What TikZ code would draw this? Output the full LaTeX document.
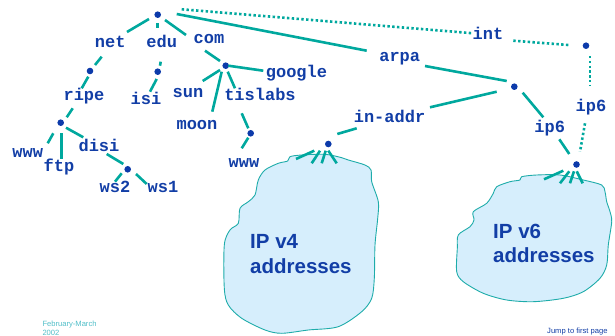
\documentclass[tikz,border=0pt]{standalone}
\usepackage{fontspec}
\usetikzlibrary{calc}
\newfontfamily\lblfont{Liberation Mono}
\newfontfamily\sansf{Liberation Sans}
\definecolor{tealc}{RGB}{0,168,158}
\definecolor{tblue}{RGB}{18,62,166}
\definecolor{dotblue}{RGB}{12,58,170}
\definecolor{blobfill}{RGB}{214,238,252}
\definecolor{blobline}{RGB}{30,172,170}
\definecolor{foot}{RGB}{80,190,200}
\tikzset{
  lbl/.style={font={\lblfont\bfseries\fontsize{17pt}{17pt}\selectfont}, text=tblue, inner sep=0pt, text height=9pt, text depth=0pt},
  dotn/.style={circle, fill=dotblue, inner sep=0pt, minimum size=6.6pt},
  edge/.style={draw=tealc, line width=2.6pt},
  dots/.style={draw=tealc, line width=2.6pt, dash pattern=on 2.4pt off 2.4pt},
  blob/.style={draw=blobline, fill=blobfill, line width=0.9pt},
  bloblbl/.style={font={\sansf\bfseries\fontsize{20.5pt}{20.5pt}\selectfont}, text=tblue, inner sep=0pt, anchor=base west},
  footl/.style={font={\sansf\fontsize{7.6pt}{7.6pt}\selectfont}, inner sep=0pt, anchor=base west}
}
\begin{document}
\begin{tikzpicture}[x=1pt,y=-1pt]
\useasboundingbox (0,0) rectangle (615,336);
% blobs
\draw[blob] plot[smooth cycle, tension=0.5] coordinates {(287.7,161) (290,156.7) (301.7,155) (325,154.3) (341.7,157.7) (348.3,160) (365,165) (371,170) (371.7,181.7) (378.3,201.7) (377.7,218.3) (375,245) (374.3,278.3) (371.7,298.3) (361.7,311.7) (338.3,326.7) (308.3,330) (281.7,333.3) (265,330) (241.7,318.3) (228.3,305) (224.3,288.3) (224.3,245) (230,230) (238.3,223.3) (240,208.3) (248.3,201.7) (255,195) (258.3,180) (265,170) (278.3,163.3)};
\draw[blob] plot[smooth cycle, tension=0.5] coordinates {(520,180) (521.7,176.7) (536.7,175) (560,175) (583.3,180) (601.7,185) (605,191.7) (606.7,201.7) (610,211.7) (611.7,221.7) (608.3,245) (606.7,265) (600,278.3) (583.3,291.7) (563.3,298.3) (533.3,301.7) (506.7,300) (483.3,293.3) (463.3,281.7) (456.7,271.7) (457.3,248.3) (458.3,235) (470,226.7) (474,220) (473.3,211.7) (486.7,203.3) (493.3,193.3) (496.7,186.7) (510,181.7)};
\node[bloblbl] (v4a) at (250,249) {IP v4};
\node[bloblbl] (v4b) at (250,273.3) {addresses};
\node[bloblbl] (v6a) at (493,238.3) {IP v6};
\node[bloblbl] (v6b) at (493,262.8) {addresses};
% dots
\node[dotn] (root) at (157.7,14.7) {};
\node[dotn] (netdot) at (90,71) {};
\node[dotn] (ripedot) at (60.7,122.7) {};
\node[dotn] (disidot) at (127.7,169.3) {};
\node[dotn] (edudot) at (157.7,71.7) {};
\node[dotn] (comdot) at (225.7,65.7) {};
\node[dotn] (tisdot) at (250.7,133.3) {};
\node[dotn] (arpadot) at (514.3,86.7) {};
\node[dotn] (intdot) at (586,45.7) {};
\node[dotn] (ip6dot) at (576.5,164.5) {};
\node[dotn] (inaddrdot) at (328.3,144) {};
% labels
\node[lbl] (net) at (110.3,43.5) {net};
\node[lbl] (edu) at (161.7,43) {edu};
\node[lbl] (com) at (209,39) {com};
\node[lbl] (ripe) at (84,96) {ripe};
\node[lbl] (www1) at (27.7,153) {www};
\node[lbl] (ftp) at (59,167) {ftp};
\node[lbl] (disi) at (99,147) {disi};
\node[lbl] (ws2) at (115,188.3) {ws2};
\node[lbl] (ws1) at (163,188.3) {ws1};
\node[lbl] (isi) at (146,100) {isi};
\node[lbl] (google) at (296.5,73) {google};
\node[lbl] (sun) at (188,93.5) {sun};
\node[lbl] (moon) at (197,125) {moon};
\node[lbl] (tislabs) at (260,96) {tislabs};
\node[lbl] (www2) at (244,163) {www};
\node[lbl] (arpa) at (399.7,57) {arpa};
\node[lbl] (int) at (488,35) {int};
\node[lbl] (ip6a) at (591,107.5) {ip6};
\node[lbl] (inaddr) at (389.5,118) {in-addr};
\node[lbl] (ip6b) at (549.7,128) {ip6};
% solid edges
\draw[edge] ($(root)+(-8.7,4.3)$) -- ($(net)+(16.7,-11.5)$);
\draw[edge] ($(root)+(0,8.5)$) -- ($(edu)+(-4,-14.7)$);
\draw[edge] ($(root)+(7.3,5.3)$) -- ($(com)+(-23,-4)$);
\draw[edge] ($(net)+(-8.6,13.2)$) -- ($(netdot)+(5,-6)$);
\draw[edge] ($(netdot)+(-1.7,5.7)$) -- ($(ripe)+(-2.3,-7.7)$);
\draw[edge] ($(ripe)+(-11.3,12.3)$) -- ($(ripedot)+(6,-5.4)$);
\draw[edge] ($(ripedot)+(-7.4,10.6)$) -- ($(www1)+(20,-9.7)$);
\draw[edge] ($(ripedot)+(1,10.6)$) -- ($(ftp)+(2.7,-7.7)$);
\draw[edge] ($(ripedot)+(5.3,5)$) -- ($(disi)+(-15.7,-9.7)$);
\draw[edge] ($(disi)+(7.7,7)$) -- ($(disidot)+(-4.4,-5.3)$);
\draw[edge] ($(disidot)+(-6,4)$) -- ($(ws2)+(0,-6.6)$);
\draw[edge] ($(disidot)+(8.3,4.7)$) -- ($(ws1)+(-16.3,-4.3)$);
\draw[edge] ($(edu)+(-1,18.7)$) -- ($(edudot)+(2.3,-6)$);
\draw[edge] ($(edudot)+(-1,7.3)$) -- ($(isi)+(4,-8.3)$);
\draw[edge] ($(com)+(-4,11.7)$) -- ($(comdot)+(-5.7,-4.7)$);
\draw[edge] ($(comdot)+(2.6,0)$) -- ($(google)+(-33.2,-2.3)$);
\draw[edge] ($(comdot)+(-5.7,4.3)$) -- ($(sun)+(14.7,-12.5)$);
\draw[edge] ($(comdot)+(-4,6)$) -- ($(moon)+(15.3,-13.3)$);
\draw[edge] ($(comdot)+(2,6)$) -- ($(tislabs)+(-25,-7.7)$);
\draw[edge] ($(tislabs)+(-18.3,17.3)$) -- ($(tisdot)+(-2.4,-5)$);
\draw[edge] ($(tisdot)+(-2.4,4.4)$) -- ($(www2)+(-2.3,-14.7)$);
\draw[edge] ($(root)+(19,-0.7)$) -- ($(arpa)+(-33,-6.3)$);
\draw[edge] ($(arpa)+(25.3,9)$) -- ($(arpadot)+(-7.6,-5.7)$);
\draw[edge] ($(arpadot)+(-17.6,5)$) -- ($(inaddr)+(40.5,-10.7)$);
\draw[edge] ($(inaddr)+(-32.8,10.3)$) -- ($(inaddrdot)+(9,-10)$);
\draw[edge] ($(arpadot)+(8.4,6)$) -- ($(ip6b)+(-6.4,-10.7)$);
\draw[edge] ($(ip6b)+(9.6,11.3)$) -- ($(ip6dot)+(-7.2,-10.5)$);
% dotted edges
\draw[dots] ($(root)+(24,-5.4)$) -- ($(int)+(-14.7,-1.7)$);
\draw[dots] ($(int)+(25.3,5.7)$) -- ($(intdot)+(-17.7,-0.7)$);
\draw[dots] ($(intdot)+(4,10.3)$) -- ($(ip6a)+(-1,-22.5)$);
\draw[dots] ($(ip6a)+(-6,15.8)$) -- ($(ip6dot)+(3.5,-12.8)$);
% fans
\draw[edge] ($(inaddrdot)+(-32.3,15)$) -- ($(inaddrdot)+(-14,6.7)$);
\draw[edge] ($(inaddrdot)+(-16.6,19.3)$) -- ($(inaddrdot)+(-8.3,6.7)$);
\draw[edge] ($(inaddrdot)+(-6.6,19.3)$) -- ($(inaddrdot)+(-2.6,6.7)$);
\draw[edge] ($(inaddrdot)+(8.4,19.3)$) -- ($(inaddrdot)+(0,6.7)$);
\draw[edge] ($(ip6dot)+(-32.5,14.8)$) -- ($(ip6dot)+(-13.2,6.2)$);
\draw[edge] ($(ip6dot)+(-16.5,18.8)$) -- ($(ip6dot)+(-7.2,6.8)$);
\draw[edge] ($(ip6dot)+(-6.5,18.8)$) -- ($(ip6dot)+(-2.5,6.8)$);
\draw[edge] ($(ip6dot)+(6.2,18.8)$) -- ($(ip6dot)+(0.2,6.8)$);
% footer
\node[footl, text=foot] (feb) at (42.3,326.8) {February-March};
\node[footl, text=foot] (yr) at (42.3,335.2) {2002};
\node[footl, text=tblue] (jump) at (547,333.6) {Jump to first page};
\end{tikzpicture}
\end{document}
